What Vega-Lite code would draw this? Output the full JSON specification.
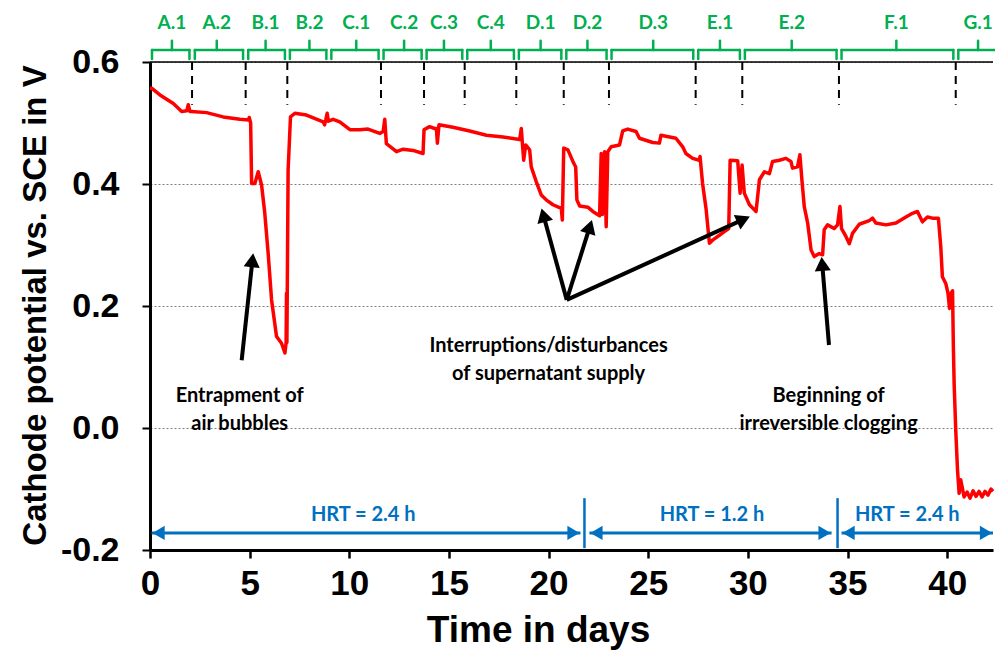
{
  "$schema": "https://vega.github.io/schema/vega-lite/v6.json",
  "width": 843,
  "height": 488,
  "autosize": {"type": "none"},
  "padding": {"left": 150, "top": 62, "right": 2, "bottom": 100},
  "background": "white",
  "config": {"view": {"stroke": null}, "font": "Liberation Sans"},
  "datasets": {
    "potential": [
      {"day": 0.0, "potential": 0.557}, {"day": 0.08, "potential": 0.557}, {"day": 0.5, "potential": 0.546},
      {"day": 1.17, "potential": 0.532}, {"day": 1.59, "potential": 0.519}, {"day": 1.85, "potential": 0.52},
      {"day": 1.92, "potential": 0.53}, {"day": 2.0, "potential": 0.519}, {"day": 2.09, "potential": 0.519},
      {"day": 2.84, "potential": 0.517}, {"day": 3.67, "potential": 0.51}, {"day": 4.51, "potential": 0.506},
      {"day": 4.95, "potential": 0.505}, {"day": 4.98, "potential": 0.509}, {"day": 5.05, "potential": 0.5},
      {"day": 5.1, "potential": 0.401}, {"day": 5.26, "potential": 0.401}, {"day": 5.43, "potential": 0.42},
      {"day": 5.6, "potential": 0.398}, {"day": 5.76, "potential": 0.352}, {"day": 5.93, "potential": 0.286},
      {"day": 6.1, "potential": 0.21}, {"day": 6.35, "potential": 0.15}, {"day": 6.6, "potential": 0.139},
      {"day": 6.77, "potential": 0.123}, {"day": 6.83, "potential": 0.14}, {"day": 6.85, "potential": 0.221},
      {"day": 6.87, "potential": 0.14}, {"day": 6.93, "potential": 0.423}, {"day": 7.05, "potential": 0.51},
      {"day": 7.27, "potential": 0.516}, {"day": 7.85, "potential": 0.513}, {"day": 8.69, "potential": 0.502},
      {"day": 8.76, "potential": 0.497}, {"day": 8.82, "potential": 0.505}, {"day": 8.89, "potential": 0.516},
      {"day": 8.95, "potential": 0.503}, {"day": 9.19, "potential": 0.506}, {"day": 9.52, "potential": 0.502},
      {"day": 10.03, "potential": 0.489}, {"day": 10.53, "potential": 0.489}, {"day": 10.94, "potential": 0.49},
      {"day": 11.53, "potential": 0.483}, {"day": 11.7, "potential": 0.486}, {"day": 11.78, "potential": 0.506},
      {"day": 11.86, "potential": 0.466}, {"day": 12.37, "potential": 0.453}, {"day": 12.7, "potential": 0.457},
      {"day": 13.2, "potential": 0.455}, {"day": 13.7, "potential": 0.45}, {"day": 13.75, "potential": 0.489},
      {"day": 14.03, "potential": 0.494}, {"day": 14.28, "potential": 0.491}, {"day": 14.37, "potential": 0.491},
      {"day": 14.42, "potential": 0.467}, {"day": 14.5, "potential": 0.497}, {"day": 15.2, "potential": 0.493},
      {"day": 16.04, "potential": 0.487}, {"day": 16.88, "potential": 0.48}, {"day": 17.71, "potential": 0.477},
      {"day": 18.55, "potential": 0.473}, {"day": 18.63, "potential": 0.491}, {"day": 18.75, "potential": 0.439},
      {"day": 18.85, "potential": 0.464}, {"day": 19.05, "potential": 0.456}, {"day": 19.13, "potential": 0.428},
      {"day": 19.38, "potential": 0.404}, {"day": 19.63, "potential": 0.382}, {"day": 19.88, "potential": 0.374},
      {"day": 20.22, "potential": 0.366}, {"day": 20.64, "potential": 0.36}, {"day": 20.69, "potential": 0.341},
      {"day": 20.76, "potential": 0.459}, {"day": 20.97, "potential": 0.456}, {"day": 21.22, "potential": 0.437},
      {"day": 21.36, "potential": 0.428}, {"day": 21.42, "potential": 0.374}, {"day": 21.56, "potential": 0.364},
      {"day": 21.97, "potential": 0.362}, {"day": 22.22, "potential": 0.355}, {"day": 22.56, "potential": 0.348},
      {"day": 22.64, "potential": 0.45}, {"day": 22.7, "potential": 0.35}, {"day": 22.81, "potential": 0.453},
      {"day": 22.89, "potential": 0.33}, {"day": 22.97, "potential": 0.453}, {"day": 23.14, "potential": 0.461},
      {"day": 23.56, "potential": 0.464}, {"day": 23.72, "potential": 0.487}, {"day": 23.97, "potential": 0.49},
      {"day": 24.39, "potential": 0.486}, {"day": 24.56, "potential": 0.475}, {"day": 25.23, "potential": 0.468},
      {"day": 25.56, "potential": 0.467}, {"day": 25.64, "potential": 0.48}, {"day": 26.39, "potential": 0.475},
      {"day": 26.73, "potential": 0.461}, {"day": 26.89, "potential": 0.45}, {"day": 27.23, "potential": 0.442},
      {"day": 27.56, "potential": 0.439}, {"day": 27.6, "potential": 0.445}, {"day": 27.73, "potential": 0.4},
      {"day": 27.9, "potential": 0.36}, {"day": 28.07, "potential": 0.303}, {"day": 28.23, "potential": 0.308},
      {"day": 28.57, "potential": 0.316}, {"day": 28.82, "potential": 0.322}, {"day": 29.04, "potential": 0.327},
      {"day": 29.11, "potential": 0.439}, {"day": 29.49, "potential": 0.438}, {"day": 29.61, "potential": 0.385},
      {"day": 29.71, "potential": 0.431}, {"day": 29.82, "potential": 0.385}, {"day": 30.08, "potential": 0.366},
      {"day": 30.41, "potential": 0.355}, {"day": 30.58, "potential": 0.407}, {"day": 30.83, "potential": 0.42},
      {"day": 31.08, "potential": 0.417}, {"day": 31.24, "potential": 0.437}, {"day": 31.58, "potential": 0.439},
      {"day": 31.91, "potential": 0.442}, {"day": 32.16, "potential": 0.437}, {"day": 32.24, "potential": 0.426},
      {"day": 32.49, "potential": 0.428}, {"day": 32.61, "potential": 0.448}, {"day": 32.71, "potential": 0.407},
      {"day": 32.83, "potential": 0.363}, {"day": 33.0, "potential": 0.336}, {"day": 33.17, "potential": 0.292},
      {"day": 33.33, "potential": 0.281}, {"day": 33.58, "potential": 0.286}, {"day": 33.75, "potential": 0.284},
      {"day": 33.83, "potential": 0.325}, {"day": 34.0, "potential": 0.333}, {"day": 34.33, "potential": 0.327},
      {"day": 34.5, "potential": 0.333}, {"day": 34.62, "potential": 0.363}, {"day": 34.7, "potential": 0.327},
      {"day": 34.92, "potential": 0.314}, {"day": 35.09, "potential": 0.302}, {"day": 35.25, "potential": 0.319},
      {"day": 35.59, "potential": 0.334}, {"day": 36.09, "potential": 0.34}, {"day": 36.26, "potential": 0.344},
      {"day": 36.42, "potential": 0.336}, {"day": 36.93, "potential": 0.333}, {"day": 37.43, "potential": 0.336},
      {"day": 37.68, "potential": 0.341}, {"day": 37.93, "potential": 0.346}, {"day": 38.26, "potential": 0.352},
      {"day": 38.51, "potential": 0.355}, {"day": 38.76, "potential": 0.338}, {"day": 39.01, "potential": 0.346},
      {"day": 39.26, "potential": 0.344}, {"day": 39.56, "potential": 0.344}, {"day": 39.68, "potential": 0.297},
      {"day": 39.76, "potential": 0.248}, {"day": 39.93, "potential": 0.237}, {"day": 40.04, "potential": 0.221},
      {"day": 40.12, "potential": 0.196}, {"day": 40.2, "potential": 0.221}, {"day": 40.27, "potential": 0.225},
      {"day": 40.31, "potential": 0.136}, {"day": 40.35, "potential": 0.073}, {"day": 40.43, "potential": -0.003},
      {"day": 40.52, "potential": -0.069}, {"day": 40.6, "potential": -0.107}, {"day": 40.68, "potential": -0.085},
      {"day": 40.85, "potential": -0.113}, {"day": 41.0, "potential": -0.105}, {"day": 41.15, "potential": -0.115},
      {"day": 41.3, "potential": -0.103}, {"day": 41.45, "potential": -0.112}, {"day": 41.6, "potential": -0.104},
      {"day": 41.75, "potential": -0.113}, {"day": 41.9, "potential": -0.104}, {"day": 42.05, "potential": -0.11},
      {"day": 42.2, "potential": -0.1}, {"day": 42.3, "potential": -0.104}
    ],
    "frame": [{"potential": 0.6}],
    "phases": [
      {"phase": "A.1", "start": 0.1, "end": 1.98, "mid": 1.1},
      {"phase": "A.2", "start": 2.25, "end": 4.67, "mid": 3.35},
      {"phase": "B.1", "start": 4.93, "end": 6.77, "mid": 5.8},
      {"phase": "B.2", "start": 7.02, "end": 8.85, "mid": 8.0},
      {"phase": "C.1", "start": 9.1, "end": 11.47, "mid": 10.35},
      {"phase": "C.2", "start": 11.72, "end": 13.63, "mid": 12.75},
      {"phase": "C.3", "start": 13.88, "end": 15.67, "mid": 14.75},
      {"phase": "C.4", "start": 15.92, "end": 18.26, "mid": 17.1},
      {"phase": "D.1", "start": 18.51, "end": 20.64, "mid": 19.6},
      {"phase": "D.2", "start": 20.89, "end": 22.91, "mid": 21.95},
      {"phase": "D.3", "start": 23.16, "end": 27.26, "mid": 25.25},
      {"phase": "E.1", "start": 27.51, "end": 29.6, "mid": 28.6},
      {"phase": "E.2", "start": 29.85, "end": 34.45, "mid": 32.2},
      {"phase": "F.1", "start": 34.7, "end": 40.31, "mid": 37.45},
      {"phase": "G.1", "start": 40.56, "end": 42.6, "mid": 41.55}
    ],
    "phaseChanges": [
      {"day": 2.11}, {"day": 4.8}, {"day": 6.89}, {"day": 11.59}, {"day": 13.75}, {"day": 15.79},
      {"day": 18.38}, {"day": 20.76}, {"day": 23.03}, {"day": 27.38}, {"day": 29.72}, {"day": 34.57}, {"day": 40.43}
    ],
    "hrt": [
      {"label": "HRT = 2.4 h", "start": 0.08, "end": 21.6, "mid": 10.7},
      {"label": "HRT = 1.2 h", "start": 22.05, "end": 34.2, "mid": 28.2},
      {"label": "HRT = 2.4 h", "start": 34.7, "end": 42.3, "mid": 38.0}
    ],
    "hrtChanges": [{"day": 21.8}, {"day": 34.5}],
    "notes": [
      {"text": "Entrapment of\nair bubbles", "day": 4.5, "potential": 0.053},
      {"text": "Interruptions/disturbances\nof supernatant supply", "day": 20.0, "potential": 0.135},
      {"text": "Beginning of\nirreversible clogging", "day": 34.05, "potential": 0.053}
    ],
    "pointers": [
      {"tx": 4.6, "ty": 0.111, "hx": 5.14, "hy": 0.275},
      {"tx": 20.91, "ty": 0.21, "hx": 19.74, "hy": 0.349},
      {"tx": 20.91, "ty": 0.21, "hx": 22.07, "hy": 0.33},
      {"tx": 20.91, "ty": 0.21, "hx": 29.78, "hy": 0.342},
      {"tx": 34.07, "ty": 0.136, "hx": 33.73, "hy": 0.269}
    ]
  },
  "layer": [
    {
      "data": {"name": "potential"},
      "mark": {"type": "line", "color": "#FF0000", "strokeWidth": 3.5, "strokeJoin": "round"},
      "encoding": {
        "x": {
          "field": "day", "type": "quantitative",
          "scale": {"domain": [0, 42.3], "nice": false, "zero": false},
          "axis": {
            "values": [0, 5, 10, 15, 20, 25, 30, 35, 40],
            "title": "Time in days",
            "titleFont": "Liberation Sans Narrow, Liberation Sans",
            "titleFontSize": 37, "titleFontWeight": "bold", "titleColor": "black",
            "titleX": 388, "titleY": 80, "titleBaseline": "middle",
            "labelFont": "Liberation Sans Narrow, Liberation Sans",
            "labelFontSize": 35, "labelFontWeight": "bold", "labelColor": "black",
            "labelPadding": 8, "labelFlush": false,
            "domainColor": "black", "domainWidth": 3,
            "tickColor": "black", "tickWidth": 2.5, "tickSize": 8,
            "grid": false
          }
        },
        "y": {
          "field": "potential", "type": "quantitative",
          "scale": {"domain": [-0.2, 0.6], "nice": false, "zero": false},
          "axis": {
            "values": [-0.2, 0, 0.2, 0.4, 0.6],
            "labelExpr": "replace(format(datum.value, '.1f'), '−', '-')",
            "title": "Cathode potential vs. SCE in V",
            "titleFont": "Liberation Sans", "titleFontSize": 33, "titleFontWeight": "bold", "titleColor": "black",
            "titleX": -115, "titleY": 243, "titleBaseline": "middle", "titleAngle": 270,
            "labelFont": "Liberation Sans", "labelFontSize": 34, "labelFontWeight": "bold", "labelColor": "black",
            "labelPadding": 23, "labelFlush": false,
            "domainColor": "black", "domainWidth": 3,
            "tickColor": "black", "tickWidth": 2, "tickSize": 8,
            "grid": true, "gridColor": "#7f7f7f", "gridDash": [2, 2], "gridWidth": 1
          }
        }
      }
    },
    {
      "data": {"name": "frame"},
      "mark": {"type": "rule", "color": "black", "strokeWidth": 1.5},
      "encoding": {
        "y": {"field": "potential", "type": "quantitative"}
      }
    },
    {
      "data": {"name": "phaseChanges"},
      "mark": {"type": "rule", "color": "black", "strokeWidth": 2, "strokeDash": [8, 6]},
      "encoding": {
        "x": {"field": "day", "type": "quantitative"},
        "y": {"datum": 0.6, "type": "quantitative"},
        "y2": {"datum": 0.53}
      }
    },
    {
      "data": {"name": "phases"},
      "mark": {"type": "rule", "color": "#00B050", "strokeWidth": 2.5, "strokeCap": "round"},
      "encoding": {
        "x": {"field": "start", "type": "quantitative"},
        "x2": {"field": "end"},
        "y": {"datum": 0.6197, "type": "quantitative"}
      }
    },
    {
      "data": {"name": "phases"},
      "transform": [{"fold": ["start", "end"], "as": ["side", "edge"]}],
      "mark": {"type": "rule", "color": "#00B050", "strokeWidth": 2.5, "strokeCap": "round"},
      "encoding": {
        "x": {"field": "edge", "type": "quantitative"},
        "y": {"datum": 0.6197, "type": "quantitative"},
        "y2": {"datum": 0.605}
      }
    },
    {
      "data": {"name": "phases"},
      "mark": {"type": "rule", "color": "#00B050", "strokeWidth": 2.5, "strokeCap": "round"},
      "encoding": {
        "x": {"field": "mid", "type": "quantitative"},
        "y": {"datum": 0.6197, "type": "quantitative"},
        "y2": {"datum": 0.635}
      }
    },
    {
      "data": {"name": "phases"},
      "mark": {"type": "text", "color": "#00B050", "font": "Lato", "fontWeight": "bold", "fontSize": 19, "baseline": "middle", "align": "center"},
      "encoding": {
        "x": {"field": "mid", "type": "quantitative"},
        "y": {"datum": 0.664, "type": "quantitative"},
        "text": {"field": "phase"}
      }
    },
    {
      "data": {"name": "hrt"},
      "mark": {"type": "rule", "color": "#0070C0", "strokeWidth": 3},
      "encoding": {
        "x": {"field": "start", "type": "quantitative"},
        "x2": {"field": "end"},
        "y": {"datum": -0.172, "type": "quantitative"}
      }
    },
    {
      "data": {"name": "hrt"},
      "mark": {"type": "point", "shape": "triangle-left", "filled": true, "color": "#0070C0", "opacity": 1, "size": 200, "xOffset": 7},
      "encoding": {
        "x": {"field": "start", "type": "quantitative"},
        "y": {"datum": -0.172, "type": "quantitative"}
      }
    },
    {
      "data": {"name": "hrt"},
      "mark": {"type": "point", "shape": "triangle-right", "filled": true, "color": "#0070C0", "opacity": 1, "size": 200, "xOffset": -7},
      "encoding": {
        "x": {"field": "end", "type": "quantitative"},
        "y": {"datum": -0.172, "type": "quantitative"}
      }
    },
    {
      "data": {"name": "hrt"},
      "mark": {"type": "text", "color": "#0070C0", "font": "Lato", "fontWeight": "bold", "fontSize": 20, "baseline": "middle", "align": "center"},
      "encoding": {
        "x": {"field": "mid", "type": "quantitative"},
        "y": {"datum": -0.143, "type": "quantitative"},
        "text": {"field": "label"}
      }
    },
    {
      "data": {"name": "hrtChanges"},
      "mark": {"type": "rule", "color": "#0070C0", "strokeWidth": 2.5},
      "encoding": {
        "x": {"field": "day", "type": "quantitative"},
        "y": {"datum": -0.115, "type": "quantitative"},
        "y2": {"datum": -0.197}
      }
    },
    {
      "data": {"name": "notes"},
      "mark": {"type": "text", "color": "black", "font": "Lato", "fontWeight": "bold", "fontSize": 20, "baseline": "middle", "align": "center", "lineBreak": "\n", "lineHeight": 28},
      "encoding": {
        "x": {"field": "day", "type": "quantitative"},
        "y": {"field": "potential", "type": "quantitative"},
        "text": {"field": "text"}
      }
    },
    {
      "data": {"name": "pointers"},
      "mark": {"type": "rule", "color": "black", "strokeWidth": 4},
      "encoding": {
        "x": {"field": "tx", "type": "quantitative"},
        "y": {"field": "ty", "type": "quantitative"},
        "x2": {"field": "hx"},
        "y2": {"field": "hy"}
      }
    },
    {
      "data": {"name": "pointers"},
      "transform": [
        {"calculate": "atan2((datum.hx - datum.tx) * 843 / 42.3, (datum.hy - datum.ty) * 488 / 0.8) * 180 / PI", "as": "heading"}
      ],
      "mark": {"type": "point", "shape": "triangle-up", "filled": true, "color": "black", "opacity": 1, "size": 260},
      "encoding": {
        "x": {"field": "hx", "type": "quantitative"},
        "y": {"field": "hy", "type": "quantitative"},
        "angle": {"field": "heading", "type": "quantitative", "scale": null}
      }
    }
  ]
}
